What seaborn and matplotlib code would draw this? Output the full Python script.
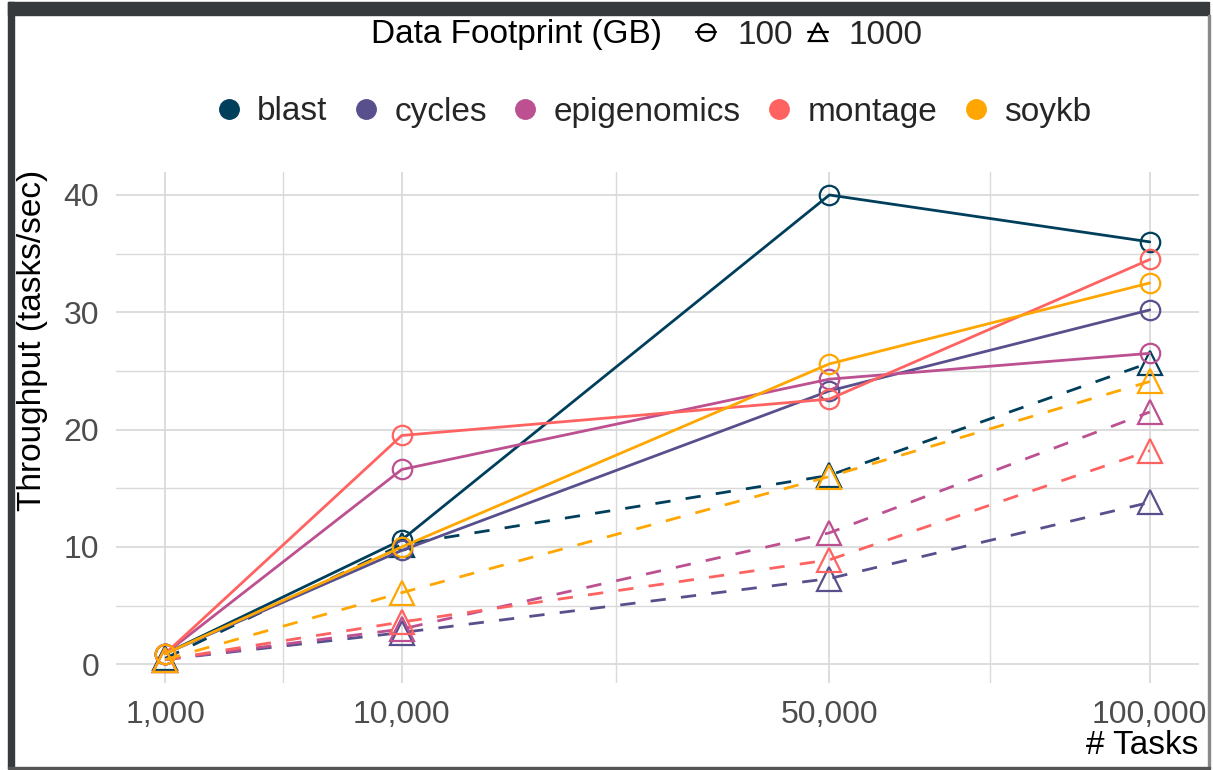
import numpy as np
import pandas as pd
import matplotlib
matplotlib.use("Agg")
import matplotlib.pyplot as plt
from matplotlib.lines import Line2D
from matplotlib.patches import Rectangle
import seaborn as sns

# Throughput measurements per workflow, task count and data footprint
tasks = [1000, 10000, 50000, 100000]
workflows = ["blast", "cycles", "epigenomics", "montage", "soykb"]
footprints = ["100", "1000"]

blast_100 = [0.9, 10.6, 40.0, 36.0]
cycles_100 = [0.9, 9.7, 23.3, 30.2]
epigenomics_100 = [0.9, 16.6, 24.3, 26.5]
montage_100 = [0.9, 19.5, 22.6, 34.5]
soykb_100 = [0.9, 10.0, 25.6, 32.5]

blast_1000 = [0.5, 10.2, 16.1, 25.7]
cycles_1000 = [0.4, 2.7, 7.3, 13.8]
epigenomics_1000 = [0.4, 3.0, 11.2, 21.5]
montage_1000 = [0.4, 3.6, 8.9, 18.2]
soykb_1000 = [0.4, 6.1, 16.0, 24.1]

x_tick_labels = ["1,000", "10,000", "50,000", "100,000"]
y_ticks = [0, 10, 20, 30, 40]

palette = {"blast": "#003f5c", "cycles": "#58508d", "epigenomics": "#bc5090",
           "montage": "#ff6361", "soykb": "#ffa600"}

series = {
    ("blast", "100"): blast_100, ("cycles", "100"): cycles_100,
    ("epigenomics", "100"): epigenomics_100, ("montage", "100"): montage_100,
    ("soykb", "100"): soykb_100,
    ("blast", "1000"): blast_1000, ("cycles", "1000"): cycles_1000,
    ("epigenomics", "1000"): epigenomics_1000, ("montage", "1000"): montage_1000,
    ("soykb", "1000"): soykb_1000,
}
rows = []
for (wf, fp), vals in series.items():
    for t, v in zip(tasks, vals):
        rows.append({"tasks": t, "throughput": v, "workflow": wf, "footprint": fp})
df = pd.DataFrame(rows)

sns.set_theme(style="whitegrid")
plt.rcParams["font.family"] = ["Liberation Sans", "DejaVu Sans"]

TXT = 24
TICK = 23

W, H = 1213, 770
fig = plt.figure(figsize=(W / 100, H / 100), dpi=100)
ax = fig.add_axes([116 / W, 1 - 683 / H, (1199 - 116) / W, (683 - 171.5) / H])

ax.set_xscale("function", functions=(np.sqrt, np.square))

sns.lineplot(data=df, x="tasks", y="throughput", hue="workflow", style="footprint",
             hue_order=workflows, style_order=footprints, palette=palette,
             markers={"100": "o", "1000": "^"}, dashes={"100": "", "1000": (5.5, 5.5)},
             linewidth=2.0, markersize=14, legend=False, ax=ax)

for ln in ax.lines:
    c = ln.get_color()
    ln.set_markerfacecolor("none")
    ln.set_markeredgecolor(c)
    ln.set_markeredgewidth(1.6)
    if ln.get_marker() == "^":
        ln.set_markersize(17)

# axis limits with ggplot-like padding in sqrt space
s_lo, s_hi = np.sqrt(1000), np.sqrt(100000)
pad = 0.05 * (s_hi - s_lo)
ax.set_xlim((s_lo - pad) ** 2, (s_hi + pad) ** 2)
ax.set_ylim(-1.6, 42.0)

ax.set_xticks(tasks)
ax.set_xticklabels(x_tick_labels)
mid = [((np.sqrt(a) + np.sqrt(b)) / 2) ** 2 for a, b in zip(tasks[:-1], tasks[1:])]
ax.set_xticks(mid, minor=True)
ax.set_yticks(y_ticks)
ax.set_yticks([5, 15, 25, 35], minor=True)

ax.grid(True, which="major", color="#dadada", linewidth=1.3)
ax.grid(True, which="minor", color="#dadada", linewidth=1.0)
for s in ax.spines.values():
    s.set_visible(False)
ax.tick_params(axis="both", which="both", length=0, labelsize=TICK, labelcolor="#4d4d4d")
ax.tick_params(axis="x", pad=12)
ax.tick_params(axis="y", pad=12)
ax.set_xlabel("")
ax.set_ylabel("")
fig.text(33 / W, 1 - 340 / H, "Throughput (tasks/sec)", rotation=90, ha="center",
         va="center", fontsize=TXT, color="black")
fig.text(1198 / W, 1 - 745 / H, "# Tasks", ha="right", va="center", fontsize=TXT,
         color="black")

# shape legend
fig.text(371 / W, 1 - 35 / H, "Data Footprint (GB)", ha="left", va="center",
         fontsize=TXT, color="black")
shape_handles = [
    Line2D([], [], color="black", linewidth=1.6, marker="o", markersize=12,
           markerfacecolor="none", markeredgewidth=1.6),
    Line2D([], [], color="black", linewidth=1.6, marker="^", markersize=13,
           markerfacecolor="none", markeredgewidth=1.6),
]
fig.legend(shape_handles, footprints, loc="center left",
           bbox_to_anchor=(696 / W, 1 - 35 / H), ncol=2, frameon=False,
           fontsize=TXT, handlelength=0.6, handletextpad=0.63, columnspacing=0.45,
           borderaxespad=0, borderpad=0)

# colour legend
color_handles = [Line2D([], [], linestyle="", marker="o", markersize=14,
                        color=palette[w]) for w in workflows]
fig.legend(color_handles, workflows, loc="center", bbox_to_anchor=(655 / W, 1 - 112 / H),
           ncol=5, frameon=False, fontsize=TXT, handlelength=0.6, handletextpad=0.55,
           columnspacing=0.85, borderaxespad=0, borderpad=0)

# window frame
fig.patches.append(Rectangle((8 / W, 1 - 15 / H), 1201 / W, 13 / H, transform=fig.transFigure,
                             color="#373a3d", zorder=10))
fig.patches.append(Rectangle((8 / W, 1 - 768 / H), 6 / W, 766 / H, transform=fig.transFigure,
                             color="#373a3d", zorder=10))
fig.patches.append(Rectangle((1208 / W, 1 - 768 / H), 2 / W, 753 / H, transform=fig.transFigure,
                             color="#8a8a8a", zorder=10))
fig.patches.append(Rectangle((8 / W, 1 - 769 / H), 1202 / W, 2 / H, transform=fig.transFigure,
                             color="#555555", zorder=10))

fig.savefig("out.png", dpi=100)
